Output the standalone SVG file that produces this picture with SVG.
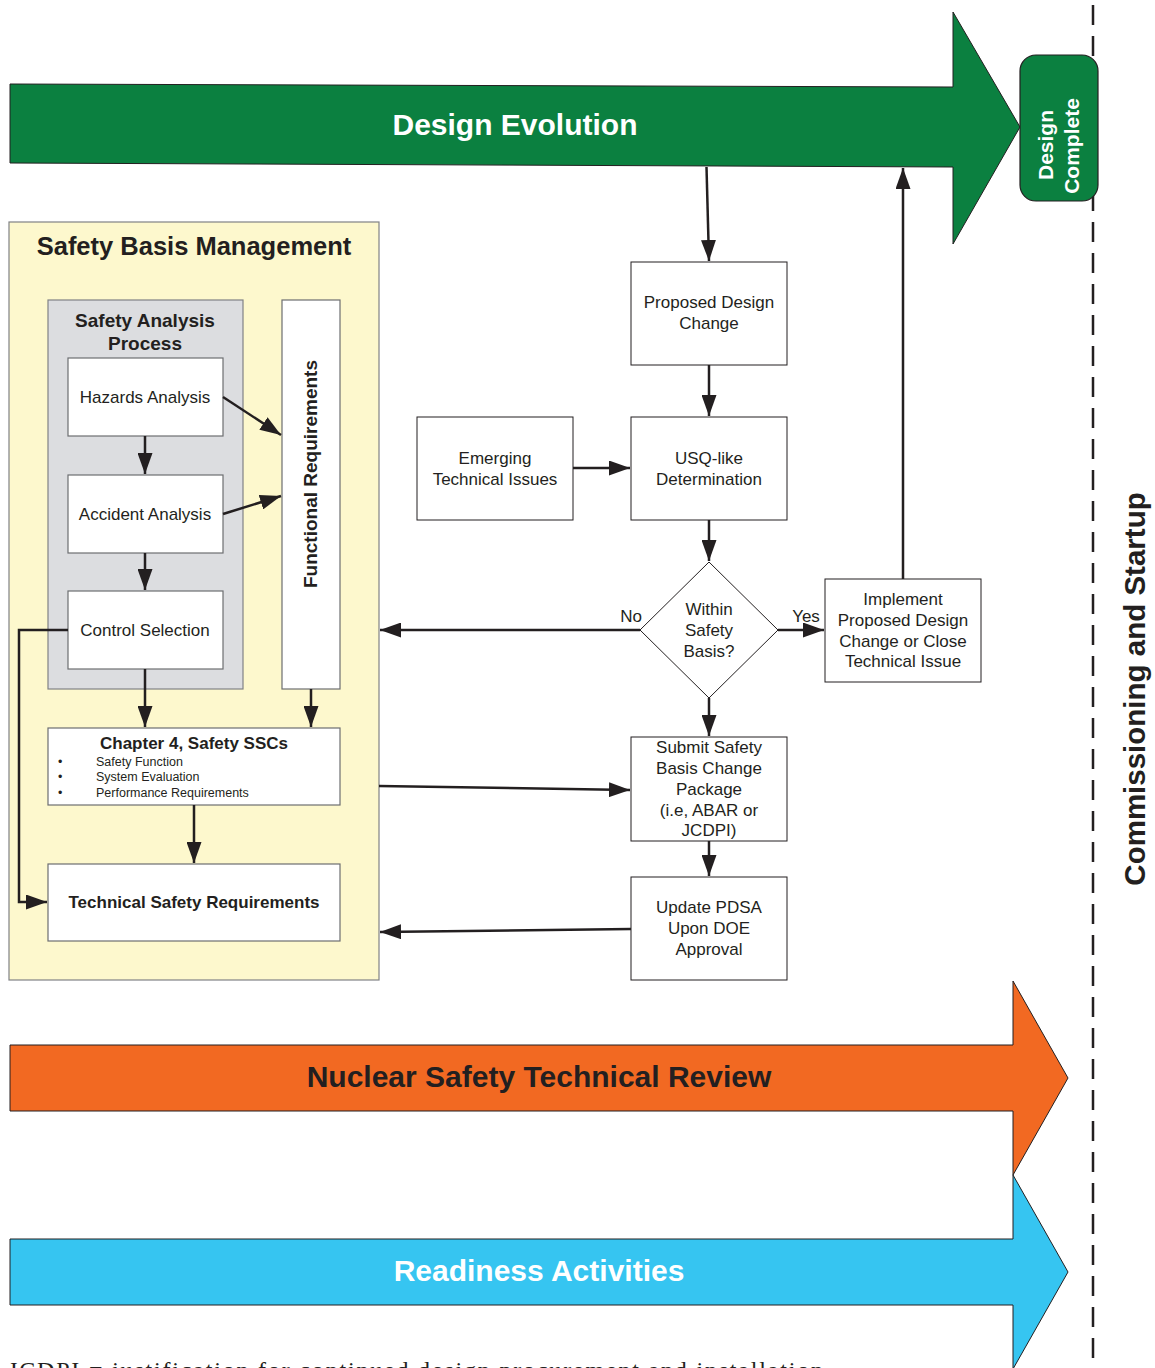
<svg xmlns="http://www.w3.org/2000/svg" width="1155" height="1368" viewBox="0 0 1155 1368">
<defs>
<marker id="ah" viewBox="0 0 21 15" refX="21" refY="7.5" markerWidth="21" markerHeight="15" markerUnits="userSpaceOnUse" orient="auto">
<path d="M0,0 L21,7.5 L0,15 Z" fill="#231f20"/>
</marker>
<style>
text{font-family:"Liberation Sans",Arial,sans-serif;fill:#231f20}
text.serif{font-family:"Liberation Serif","Times New Roman",serif}
.b{font-weight:bold}
.box{fill:#fff;stroke:#231f20;stroke-width:1}
.gbox{fill:#fff;stroke:#6d6e71;stroke-width:1.2}
.c{fill:none;stroke:#231f20;stroke-width:2.5;marker-end:url(#ah)}
.n{font-size:17px;text-anchor:middle}
.w{fill:#fff}
</style>
</defs>
<rect width="1155" height="1368" fill="#fff"/>

<line x1="1093" y1="5" x2="1093" y2="1368" stroke="#231f20" stroke-width="2.5" stroke-dasharray="20,11"/>

<g id="design-evolution">
<polygon points="10,84 953,87 953,12 1020,127 953,244 953,167 10,163" fill="#0b8040" stroke="#231f20" stroke-width="1"/>
<text x="515" y="135" class="b w" font-size="30" text-anchor="middle">Design Evolution</text>
</g>

<g id="design-complete">
<rect x="1020" y="55" width="78" height="146" rx="16" fill="#0b8040" stroke="#231f20" stroke-width="1.2"/>
<text transform="translate(1053,145) rotate(-90)" class="b w" font-size="21" text-anchor="middle">Design</text>
<text transform="translate(1079,146) rotate(-90)" class="b w" font-size="21" text-anchor="middle">Complete</text>
</g>

<text transform="translate(1145,689) rotate(-90)" class="b" font-size="29.5" text-anchor="middle">Commissioning and Startup</text>

<g id="safety-basis-management">
<rect x="9" y="222" width="370" height="758" fill="#fdf8cd" stroke="#808285" stroke-width="1.2"/>
<text x="194" y="255" class="b" font-size="25.5" text-anchor="middle">Safety Basis Management</text>
</g>

<g id="safety-analysis-process">
<rect x="48" y="300" width="195" height="389" fill="#dcdde0" stroke="#808285" stroke-width="1.2"/>
<text x="145" y="327" class="b" font-size="19" text-anchor="middle">Safety Analysis</text>
<text x="145" y="350" class="b" font-size="19" text-anchor="middle">Process</text>
</g>

<g id="hazards-analysis">
<rect x="68" y="358" width="155" height="78" class="gbox"/>
<text x="145" y="403" class="n">Hazards Analysis</text>
</g>
<g id="accident-analysis">
<rect x="68" y="475" width="155" height="78" class="gbox"/>
<text x="145" y="520" class="n">Accident Analysis</text>
</g>
<g id="control-selection">
<rect x="68" y="591" width="155" height="78" class="gbox"/>
<text x="145" y="636" class="n">Control Selection</text>
</g>
<g id="functional-requirements">
<rect x="282" y="300" width="58" height="389" class="gbox"/>
<text transform="translate(317,474) rotate(-90)" class="b" font-size="19" text-anchor="middle">Functional Requirements</text>
</g>
<g id="chapter-4">
<rect x="48" y="728" width="292" height="77" class="gbox"/>
<text x="194" y="749" class="b" font-size="17" text-anchor="middle">Chapter 4, Safety SSCs</text>
<g font-size="12.5">
<text x="58" y="766">•</text><text x="96" y="766">Safety Function</text>
<text x="58" y="781">•</text><text x="96" y="781">System Evaluation</text>
<text x="58" y="797">•</text><text x="96" y="797">Performance Requirements</text>
</g>
</g>
<g id="technical-safety-requirements">
<rect x="48" y="864" width="292" height="77" class="gbox"/>
<text x="194" y="908" class="b" font-size="17" text-anchor="middle">Technical Safety Requirements</text>
</g>

<g id="proposed-design-change">
<rect x="631" y="262" width="156" height="103" class="box"/>
<text x="709" y="308" class="n">Proposed Design</text>
<text x="709" y="329" class="n">Change</text>
</g>
<g id="emerging-technical-issues">
<rect x="417" y="417" width="156" height="103" class="box"/>
<text x="495" y="464" class="n">Emerging</text>
<text x="495" y="485" class="n">Technical Issues</text>
</g>
<g id="usq-determination">
<rect x="631" y="417" width="156" height="103" class="box"/>
<text x="709" y="464" class="n">USQ-like</text>
<text x="709" y="485" class="n">Determination</text>
</g>
<g id="within-safety-basis">
<polygon points="709,562 778,630 709,698 640,630" class="box"/>
<text x="709" y="615" class="n">Within</text>
<text x="709" y="636" class="n">Safety</text>
<text x="709" y="657" class="n">Basis?</text>
</g>
<g id="implement">
<rect x="825" y="579" width="156" height="103" class="box"/>
<text x="903" y="605" class="n">Implement</text>
<text x="903" y="626" class="n">Proposed Design</text>
<text x="903" y="647" class="n">Change or Close</text>
<text x="903" y="667" class="n">Technical Issue</text>
</g>
<g id="submit-package">
<rect x="631" y="737" width="156" height="104" class="box"/>
<text x="709" y="753" class="n">Submit Safety</text>
<text x="709" y="774" class="n">Basis Change</text>
<text x="709" y="795" class="n">Package</text>
<text x="709" y="816" class="n">(i.e, ABAR or</text>
<text x="709" y="836" class="n">JCDPI)</text>
</g>
<g id="update-pdsa">
<rect x="631" y="877" width="156" height="103" class="box"/>
<text x="709" y="913" class="n">Update PDSA</text>
<text x="709" y="934" class="n">Upon DOE</text>
<text x="709" y="955" class="n">Approval</text>
</g>

<g id="nuclear-safety-technical-review">
<polygon points="10,1045 1013,1045 1013,981 1068,1078 1013,1175 1013,1111 10,1111" fill="#f26922" stroke="#231f20" stroke-width="1"/>
<text x="539" y="1087" class="b" font-size="30" text-anchor="middle">Nuclear Safety Technical Review</text>
</g>
<g id="readiness-activities">
<polygon points="10,1239 1013,1239 1013,1175 1068,1272 1013,1369 1013,1305 10,1305" fill="#36c5f1" stroke="#231f20" stroke-width="1"/>
<text x="539" y="1281" class="b w" font-size="30" text-anchor="middle">Readiness Activities</text>
</g>

<g id="connectors">
<line x1="223" y1="397" x2="281" y2="435" class="c"/>
<line x1="223" y1="514" x2="281" y2="496" class="c"/>
<line x1="145" y1="436" x2="145" y2="474" class="c"/>
<line x1="145" y1="553" x2="145" y2="590" class="c"/>
<line x1="145" y1="669" x2="145" y2="727" class="c"/>
<line x1="311" y1="689" x2="311" y2="727" class="c"/>
<polyline points="68,630 19,630 19,902 47,902" class="c"/>
<line x1="194" y1="805" x2="194" y2="863" class="c"/>
<line x1="706.5" y1="167" x2="709" y2="261" class="c"/>
<line x1="709" y1="365" x2="709" y2="416" class="c"/>
<line x1="573" y1="468" x2="630" y2="468" class="c"/>
<line x1="709" y1="520" x2="709" y2="561" class="c"/>
<line x1="640" y1="630" x2="380" y2="630" class="c"/>
<line x1="778" y1="630" x2="824" y2="630" class="c"/>
<line x1="903" y1="579" x2="903" y2="168" class="c"/>
<line x1="709" y1="698" x2="709" y2="736" class="c"/>
<line x1="379" y1="786" x2="630" y2="790" class="c"/>
<line x1="709" y1="841" x2="709" y2="876" class="c"/>
<line x1="631" y1="929" x2="380" y2="932" class="c"/>
<text x="631" y="622" font-size="17" text-anchor="middle">No</text>
<text x="806" y="622" font-size="17" text-anchor="middle">Yes</text>
</g>

<text x="8" y="1378" class="serif" font-size="24" textLength="815" lengthAdjust="spacing">JCDPI = justification for continued design procurement and installation</text>
</svg>
